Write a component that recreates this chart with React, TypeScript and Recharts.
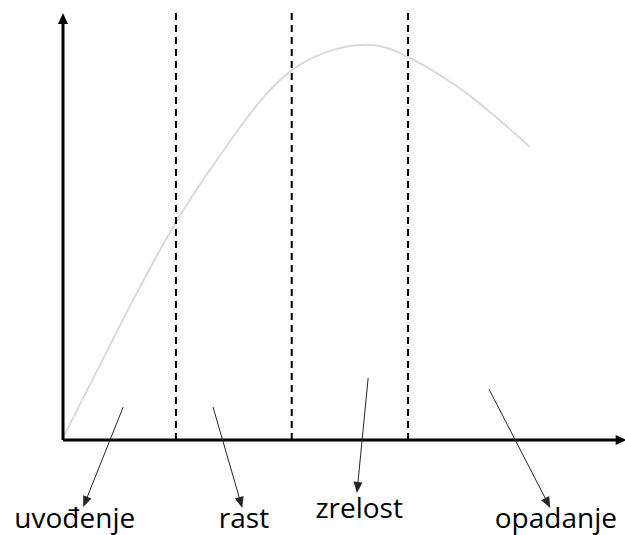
import React from 'react';
import { LineChart, Line, XAxis, YAxis, ReferenceLine, ReferenceDot } from 'recharts';

// Product life cycle curve (x: time, y: sales)
const curveX = [0, 10, 20.1, 30, 40.7, 52.8, 61.4, 72, 83.1];
const curveY = [0.5, 26.5, 51, 70.5, 86.6, 92.5, 89.7, 81, 68.6];

// stage boundaries
const stageBounds = [20.1, 40.7, 61.4];

// stage labels and arrows
const stageNames = ['uvođenje', 'rast', 'zrelost', 'opadanje'];
const labelX = [2.1, 32.2, 52.7, 87.7];
const labelY = [-20.6, -20.6, -18.3, -20.6];
const arrowFromX = [10.7, 26.7, 54.3, 75.8];
const arrowFromY = [7.7, 7.7, 14.5, 11.9];
const arrowToX = [3.6, 31.9, 52.3, 86.7];
const arrowToY = [-15.7, -15.9, -12.4, -15.9];

const data = curveX.map((x, i) => ({ x, y: curveY[i] }));

const FONT = '"Open Sans", "Noto Sans", sans-serif';

const makeArrow = (headLen: number, headW: number, color: string, width: number) => (props: any) => {
  const { x1, y1, x2, y2 } = props;
  const dx = x2 - x1;
  const dy = y2 - y1;
  const len = Math.sqrt(dx * dx + dy * dy) || 1;
  const ux = dx / len;
  const uy = dy / len;
  const bx = x2 - ux * headLen;
  const by = y2 - uy * headLen;
  const nx = -uy;
  const ny = ux;
  const pts = `${x2},${y2} ${bx + nx * headW / 2},${by + ny * headW / 2} ${bx - nx * headW / 2},${by - ny * headW / 2}`;
  return (
    <g>
      <line x1={x1} y1={y1} x2={bx + ux * 1} y2={by + uy * 1} stroke={color} strokeWidth={width} />
      <polygon points={pts} fill={color} stroke="none" />
    </g>
  );
};

const axisArrow = makeArrow(11, 10, '#000', 3);
const labelArrow = makeArrow(11, 9, '#262626', 1);

const makeLabel = (text: string) => (props: any) => {
  const vb = props.viewBox || {};
  const cx = vb.x + (vb.width || 0) / 2;
  const cy = vb.y + (vb.height || 0) / 2;
  return (
    <text x={cx} y={cy} textAnchor="middle" fontSize={28} fontFamily={FONT} fill="#000">
      {text}
    </text>
  );
};

export default function App() {
  return (
    <div style={{ position: 'absolute', left: 0, top: 0, background: '#fff' }}>
      <LineChart
        width={625}
        height={535}
        data={data}
        margin={{ top: 13, right: 0, bottom: 95, left: 63 }}
      >
        <XAxis type="number" dataKey="x" domain={[0, 100]} allowDataOverflow hide />
        <YAxis type="number" domain={[0, 100]} allowDataOverflow hide />
        <Line
          type="natural"
          dataKey="y"
          stroke="#d9d9d9"
          strokeWidth={2}
          dot={false}
          isAnimationActive={false}
        />
        {stageBounds.map((b) => (
          <ReferenceLine
            key={'b' + b}
            segment={[{ x: b, y: 0 }, { x: b, y: 101 }]}
            stroke="#000"
            strokeWidth={2}
            strokeDasharray="7 5"
            ifOverflow="visible"
          />
        ))}
        <ReferenceLine
          segment={[{ x: 0, y: 0 }, { x: 0, y: 100 }]}
          ifOverflow="visible"
          shape={axisArrow}
        />
        <ReferenceLine
          segment={[{ x: 0, y: 0 }, { x: 100.3, y: 0 }]}
          ifOverflow="visible"
          shape={axisArrow}
        />
        {stageNames.map((n, i) => (
          <ReferenceLine
            key={'a' + n}
            segment={[
              { x: arrowFromX[i], y: arrowFromY[i] },
              { x: arrowToX[i], y: arrowToY[i] },
            ]}
            ifOverflow="visible"
            shape={labelArrow}
          />
        ))}
        {stageNames.map((n, i) => (
          <ReferenceDot
            key={'l' + n}
            x={labelX[i]}
            y={labelY[i]}
            r={0}
            fill="none"
            stroke="none"
            ifOverflow="visible"
            label={makeLabel(n)}
          />
        ))}
      </LineChart>
    </div>
  );
}
